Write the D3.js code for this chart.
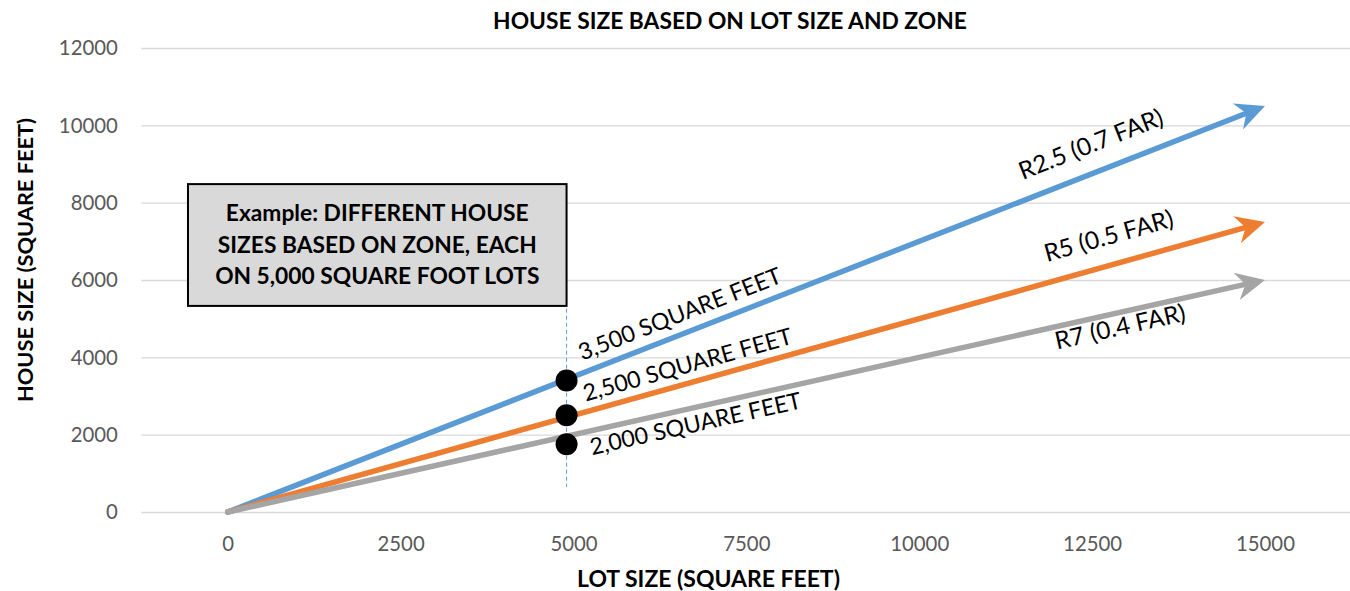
<!DOCTYPE html>
<html><head><meta charset="utf-8">
<script src="https://cdn.jsdelivr.net/npm/d3@7"></script>
<style>body{margin:0;background:#fff}svg{display:block}text{font-family:Lato,"Open Sans",sans-serif}</style>
</head><body>
<svg id="c" width="1350" height="591"></svg>
<script>
// ---- data ----
const chartTitle = "HOUSE SIZE BASED ON LOT SIZE AND ZONE";
const xTitle = "LOT SIZE (SQUARE FEET)";
const yTitle = "HOUSE SIZE (SQUARE FEET)";
const zones = ["R2.5 (0.7 FAR)", "R5 (0.5 FAR)", "R7 (0.4 FAR)"];
const lotStart = [0, 0, 0];
const houseStart = [0, 0, 0];
const lotEnd = [15000, 15000, 15000];
const houseEnd = [10500, 7500, 6000];
const exampleLot = 4900;
const exampleHouse = [3400, 2500, 1750];
const exampleLabels = ["3,500 SQUARE FEET", "2,500 SQUARE FEET", "2,000 SQUARE FEET"];
const boxLines = ["Example: DIFFERENT HOUSE", "SIZES BASED ON ZONE, EACH", "ON 5,000 SQUARE FOOT LOTS"];
const xTicks = [0, 2500, 5000, 7500, 10000, 12500, 15000];
const yTicks = [0, 2000, 4000, 6000, 8000, 10000, 12000];

// ---- layout (data-space anchors for annotations) ----
const zoneLabelX = [12527, 12773, 12933];
const zoneLabelY = [9310, 6931, 4577];
const exLabelX = [6580, 6680, 6790];
const exLabelY = [4930, 3610, 2080];
const colors = ["#5B9BD5", "#ED7D31", "#A5A5A5"];

const svg = d3.select("#c");
const x = d3.scaleLinear().domain([-1250, 16250]).range([141.3, 1351.4]);
const y = d3.scaleLinear().domain([0, 12000]).range([512, 48]);

function fit(sel, target) {
  const n = sel.node();
  const fs = parseFloat(n.getAttribute("font-size"));
  const len = n.getComputedTextLength();
  const nf = fs * target / len;
  sel.attr("font-size", nf.toFixed(2));
  return nf;
}

// y axis with gridlines
const ya = svg.append("g").attr("transform", `translate(${x(-1250)},0)`)
  .call(d3.axisLeft(y).tickValues(yTicks).tickFormat(d3.format("d"))
    .tickSizeInner(-(x(16250) - x(-1250))).tickSizeOuter(0).tickPadding(23.5));
ya.select(".domain").remove();
ya.selectAll(".tick line").attr("stroke", "#D9D9D9").attr("stroke-width", 1.3);
ya.selectAll(".tick text").attr("fill", "#595959").attr("font-size", 20)
  .style("font-family", "Lato").attr("dy", "0.34em");

const xa = svg.append("g").attr("transform", `translate(0,${y(0)})`)
  .call(d3.axisBottom(x).tickValues(xTicks).tickFormat(d3.format("d")).tickSize(0).tickPadding(25));
xa.select(".domain").remove();
xa.selectAll(".tick text").attr("fill", "#595959").attr("font-size", 20)
  .style("font-family", "Lato");

// fit tick fonts to reference width of "12000"
{
  const t12 = ya.selectAll(".tick text").filter(d => d === 12000);
  const fs = fit(t12, 59);
  ya.selectAll(".tick text").attr("font-size", fs.toFixed(2));
  xa.selectAll(".tick text").attr("font-size", fs.toFixed(2));
}

// dashed guide
svg.append("line")
  .attr("x1", x(exampleLot)).attr("x2", x(exampleLot))
  .attr("y1", y(5800)).attr("y2", y(650))
  .attr("stroke", "#5B9BD5").attr("stroke-width", 1).attr("stroke-dasharray", "4,3");

// annotation box
const bx0 = x(-575), bx1 = x(exampleLot), by0 = y(8480), by1 = y(5330);
svg.append("rect").attr("x", bx0).attr("y", by0).attr("width", bx1 - bx0).attr("height", by1 - by0)
  .attr("fill", "#D9D9D9").attr("stroke", "#000").attr("stroke-width", 2);
const bcx = (bx0 + bx1) / 2, bcy = (by0 + by1) / 2;
const bt = svg.append("g").selectAll("text").data(boxLines).join("text")
  .attr("x", bcx).attr("y", (d, i) => bcy + (i - 1) * 31.5 + 7.5)
  .attr("text-anchor", "middle").attr("font-weight", "bold").attr("font-size", 20)
  .attr("fill", "#000").text(d => d);
{
  const fs = fit(bt.filter((d, i) => i === 1), 319);
  bt.attr("font-size", fs.toFixed(2));
}

// zone lines with arrowheads
const lineG = svg.append("g");
zones.forEach((z, i) => {
  const p0 = [x(lotStart[i]), y(houseStart[i])];
  const p1 = [x(lotEnd[i]), y(houseEnd[i])];
  const dx = p1[0] - p0[0], dy = p1[1] - p0[1];
  const L = Math.hypot(dx, dy);
  const u = [dx / L, dy / L], n = [-u[1], u[0]];
  const e = [p1[0] - u[0] * 18, p1[1] - u[1] * 18];
  lineG.append("path").attr("d", d3.line()([p0, e]))
    .attr("stroke", colors[i]).attr("stroke-width", 5.5).attr("fill", "none").attr("stroke-linecap", "round");
  const back = 29, half = 14, notch = 20;
  const pts = [
    p1,
    [p1[0] - u[0] * back + n[0] * half, p1[1] - u[1] * back + n[1] * half],
    [p1[0] - u[0] * notch, p1[1] - u[1] * notch],
    [p1[0] - u[0] * back - n[0] * half, p1[1] - u[1] * back - n[1] * half]
  ];
  lineG.append("path").attr("d", d3.line()(pts) + "Z").attr("fill", colors[i]);
});

// example dots
svg.append("g").selectAll("circle").data(exampleHouse).join("circle")
  .attr("cx", x(exampleLot)).attr("cy", d => y(d)).attr("r", 11).attr("fill", "#000");

// angle helper
const ang = i => Math.atan2(y(houseEnd[i]) - y(houseStart[i]), x(lotEnd[i]) - x(lotStart[i])) * 180 / Math.PI;

// zone labels
const zl = svg.append("g").selectAll("text").data(zones).join("text")
  .attr("transform", (d, i) => `translate(${x(zoneLabelX[i])},${y(zoneLabelY[i])}) rotate(${ang(i)})`)
  .attr("text-anchor", "middle").attr("font-size", 22).attr("fill", "#000").text(d => d);
{
  const fs = fit(zl.filter((d, i) => i === 0), 153);
  zl.attr("font-size", fs.toFixed(2));
}
const el = svg.append("g").selectAll("text").data(exampleLabels).join("text")
  .attr("transform", (d, i) => `translate(${x(exLabelX[i])},${y(exLabelY[i])}) rotate(${ang(i)})`)
  .attr("text-anchor", "middle").attr("font-size", 22).attr("fill", "#000").text(d => d);
{
  const fs = fit(el.filter((d, i) => i === 1), 216);
  el.attr("font-size", fs.toFixed(2));
}

// titles
const tt = svg.append("text").attr("x", 730).attr("y", 29).attr("text-anchor", "middle")
  .attr("font-weight", "bold").attr("font-size", 20).attr("fill", "#000").text(chartTitle);
fit(tt, 474);
const xt = svg.append("text").attr("x", 708.5).attr("y", 587).attr("text-anchor", "middle")
  .attr("font-weight", "bold").attr("font-size", 20).attr("fill", "#000").text(xTitle);
fit(xt, 263);
const yt = svg.append("text").attr("transform", "translate(33,260) rotate(-90)").attr("text-anchor", "middle")
  .attr("font-weight", "bold").attr("font-size", 20).attr("fill", "#000").text(yTitle);
fit(yt, 284);
</script>
</body></html>
